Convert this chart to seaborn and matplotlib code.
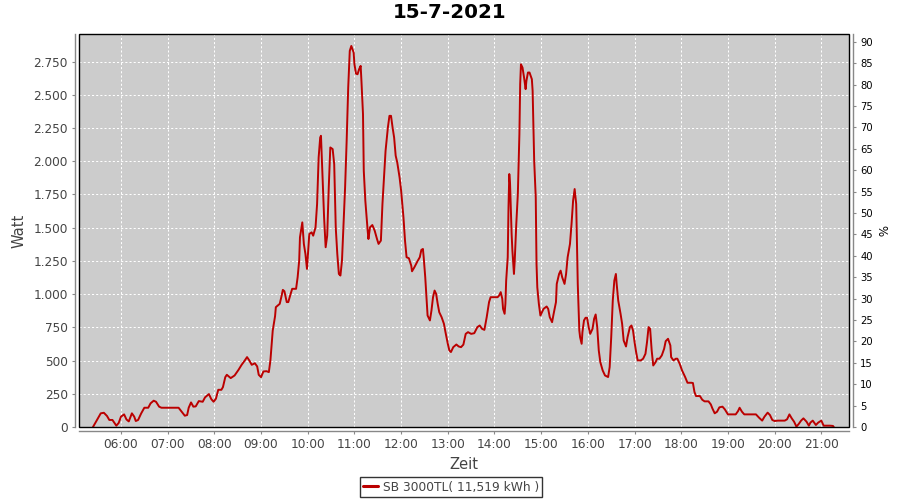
import matplotlib
matplotlib.use("Agg")
import matplotlib.pyplot as plt
from matplotlib.patches import Rectangle
from matplotlib.lines import Line2D
from matplotlib.ticker import FuncFormatter, MultipleLocator
import seaborn as sns
import pandas as pd

title = "15-7-2021"
series_name = "SB 3000TL( 11,519 kWh )"
x_label = "Zeit"
y_label = "Watt"
y2_label = "%"

times = [
    "05:24", "05:34", "05:38", "05:42", "05:45", "05:49", "05:54", "05:57",
    "06:00", "06:04", "06:07", "06:10", "06:14", "06:17", "06:19", "06:22",
    "06:26", "06:30", "06:35", "06:38", "06:42", "06:45", "06:49", "06:52",
    "07:00", "07:14", "07:18", "07:22", "07:25", "07:27", "07:30", "07:33",
    "07:36", "07:40", "07:45", "07:48", "07:53", "07:56", "07:59", "08:02",
    "08:05", "08:09", "08:11", "08:14", "08:16", "08:21", "08:26", "08:31",
    "08:35", "08:39", "08:42", "08:45", "08:48", "08:52", "08:55", "08:57",
    "09:00", "09:03", "09:07", "09:10", "09:12", "09:13", "09:15", "09:18",
    "09:19", "09:24", "09:26", "09:28", "09:30", "09:33", "09:35", "09:38",
    "09:40", "09:45", "09:47", "09:49", "09:50", "09:53", "09:55", "09:57",
    "09:59", "10:02", "10:05", "10:07", "10:10", "10:12", "10:14", "10:16",
    "10:17", "10:19", "10:21", "10:23", "10:25", "10:27", "10:29", "10:32",
    "10:34", "10:36", "10:38", "10:40", "10:42", "10:44", "10:46", "10:48",
    "10:50", "10:52", "10:54", "10:56", "10:59", "11:00", "11:02", "11:04",
    "11:06", "11:08", "11:09", "11:11", "11:12", "11:14", "11:17", "11:18",
    "11:20", "11:23", "11:26", "11:29", "11:31", "11:34", "11:36", "11:38",
    "11:40", "11:43", "11:45", "11:47", "11:49", "11:51", "11:53", "11:55",
    "11:58", "12:00", "12:03", "12:05", "12:07", "12:10", "12:13", "12:14",
    "12:17", "12:21", "12:24", "12:26", "12:28", "12:29", "12:31", "12:33",
    "12:34", "12:37", "12:39", "12:41", "12:43", "12:45", "12:47", "12:49",
    "12:52", "12:55", "12:57", "13:00", "13:02", "13:04", "13:07", "13:11",
    "13:14", "13:17", "13:20", "13:23", "13:26", "13:30", "13:34", "13:38",
    "13:41", "13:44", "13:47", "13:50", "13:53", "13:55", "14:01", "14:04",
    "14:06", "14:08", "14:10", "14:11", "14:13", "14:14", "14:15", "14:17",
    "14:18", "14:19", "14:20", "14:22", "14:23", "14:25", "14:26", "14:28",
    "14:30", "14:32", "14:33", "14:34", "14:36", "14:38", "14:40", "14:41",
    "14:43", "14:45", "14:48", "14:49", "14:50", "14:51", "14:53", "14:54",
    "14:55", "14:57", "14:59", "15:01", "15:03", "15:07", "15:09", "15:11",
    "15:14", "15:16", "15:19", "15:20", "15:23", "15:25", "15:27", "15:30",
    "15:32", "15:34", "15:37", "15:39", "15:41", "15:43", "15:45", "15:46",
    "15:47", "15:49", "15:50", "15:52", "15:53", "15:55", "15:57", "15:59",
    "16:01", "16:03", "16:06", "16:08", "16:10", "16:12", "16:14", "16:16",
    "16:19", "16:22", "16:26", "16:28", "16:30", "16:32", "16:34", "16:36",
    "16:37", "16:39", "16:42", "16:44", "16:46", "16:49", "16:51", "16:54",
    "16:56", "16:58", "17:00", "17:02", "17:04", "17:08", "17:11", "17:14",
    "17:16", "17:18", "17:20", "17:22", "17:24", "17:27", "17:29", "17:32",
    "17:35", "17:38", "17:40", "17:43", "17:46", "17:47", "17:50", "17:53",
    "17:55", "17:58", "18:01", "18:05", "18:08", "18:13", "18:15", "18:17",
    "18:19", "18:24", "18:27", "18:30", "18:35", "18:38", "18:40", "18:43",
    "18:46", "18:49", "18:53", "18:56", "19:00", "19:04", "19:10", "19:13",
    "19:15", "19:18", "19:21", "19:26", "19:32", "19:36", "19:40", "19:44",
    "19:47", "19:51", "19:54", "19:57", "20:00", "20:04", "20:09", "20:13",
    "20:16", "20:19", "20:22", "20:25", "20:28", "20:31", "20:34", "20:37",
    "20:41", "20:44", "20:46", "20:49", "20:53", "20:56", "21:00", "21:03",
    "21:06", "21:11", "21:15", "21:16",
]

watts = [
    0, 103, 107, 83, 53, 53, 10, 30,
    78, 95, 57, 42, 103, 78, 45, 53,
    103, 145, 145, 178, 198, 190, 153, 145,
    145, 145, 115, 85, 90, 145, 185, 153,
    155, 195, 190, 223, 248, 210, 190, 213,
    280, 280, 300, 375, 393, 368, 388, 430,
    468, 500, 526, 500, 468, 480, 456, 393,
    375, 418, 420, 413, 500, 576, 726, 834,
    902, 927, 977, 1032, 1022, 940, 940, 1002,
    1040, 1040, 1127, 1253, 1428, 1540, 1378, 1303,
    1190, 1453, 1465, 1440, 1503, 1678, 2029, 2179,
    2192, 1879, 1578, 1353, 1440, 1804, 2104, 2092,
    1979, 1500, 1300, 1152, 1140, 1253, 1528, 1804,
    2154, 2555, 2831, 2868, 2818, 2730, 2660, 2655,
    2693, 2718, 2605, 2355, 1929, 1703, 1478, 1415,
    1503, 1520, 1478, 1415, 1378, 1403, 1678, 1879,
    2079, 2255, 2342, 2342, 2255, 2179, 2042, 1992,
    1879, 1779, 1578, 1403, 1278, 1270, 1215, 1172,
    1202, 1247, 1278, 1333, 1340, 1278, 1127, 927,
    839, 802, 877, 977, 1027, 1002, 927, 864,
    827, 777, 714, 626, 576, 564, 601, 621,
    606, 601, 620, 701, 714, 701, 706, 752,
    764, 739, 731, 827, 940, 977, 977, 977,
    990, 1015, 965, 889, 852, 927, 1102, 1278,
    1653, 1904, 1829, 1453, 1328, 1152, 1253, 1528,
    1754, 2204, 2580, 2730, 2705, 2630, 2543, 2605,
    2668, 2668, 2618, 2530, 2255, 2004, 1729, 1228,
    1052, 927, 839, 864, 889, 907, 889, 827,
    789, 852, 940, 1077, 1152, 1177, 1127, 1077,
    1152, 1278, 1378, 1528, 1703, 1791, 1678, 1378,
    1077, 727, 676, 626, 714, 802, 822, 822,
    752, 701, 739, 814, 847, 752, 576, 488,
    426, 388, 376, 451, 676, 952, 1102, 1152,
    1077, 952, 852, 777, 651, 606, 676, 752,
    764, 727, 639, 564, 501, 501, 514, 551,
    639, 752, 739, 576, 463, 488, 514, 514,
    539, 589, 646, 664, 614, 526, 501, 514,
    514, 476, 426, 376, 333, 333, 331, 263,
    233, 233, 205, 193, 193, 170, 140, 103,
    115, 148, 153, 133, 95, 95, 95, 120,
    145, 115, 95, 95, 95, 95, 70, 48,
    78, 108, 90, 53, 45, 48, 48, 48,
    58, 95, 65, 40, 3, 23, 48, 65,
    40, 10, 33, 48, 15, 33, 48, 10,
    10, 10, 8, 0,
]

hour_ticks = list(range(6, 22))
watt_ticks = list(range(0, 2751, 250))
pct_ticks = list(range(0, 91, 5))

line_color = "#bb0000"
text_gray = "#444444"
axis_gray = "#888888"

sns.set_style("white")
plt.rcParams["font.family"] = ["DejaVu Sans"]

df = pd.DataFrame({"time": times, "watt": watts})
df["hour"] = df["time"].apply(lambda s: int(s[:2]) + int(s[3:]) / 60.0)

fig = plt.figure(figsize=(9, 5), dpi=100)
fig.patch.set_facecolor("white")
ax = fig.add_axes([79 / 900, 73 / 500, 770 / 900, 393 / 500])
ax.set_facecolor("#cccccc")

sns.lineplot(data=df, x="hour", y="watt", ax=ax, color=line_color,
             linewidth=1.4, estimator=None, sort=False, legend=False, zorder=3)

ax.set_xlim(5.1005, 21.593)
ax.set_ylim(0, 2958)
ax.xaxis.set_major_locator(MultipleLocator(1))
ax.set_xticks(hour_ticks)
ax.set_yticks(watt_ticks)
ax.xaxis.set_major_formatter(FuncFormatter(lambda v, p: f"{int(round(v)):02d}:00"))
ax.yaxis.set_major_formatter(FuncFormatter(lambda v, p: f"{int(round(v)):,}".replace(",", ".")))

ax.grid(True, color="white", linestyle=(0, (2, 2)), linewidth=0.75, zorder=1)
ax.set_axisbelow(True)

for side in ["top", "right"]:
    ax.spines[side].set_visible(False)
for side in ["left", "bottom"]:
    ax.spines[side].set_visible(True)
    ax.spines[side].set_position(("outward", 3))
    ax.spines[side].set_color(axis_gray)
    ax.spines[side].set_linewidth(1.0)

ax.tick_params(axis="both", which="major", length=2.5, width=0.8, color=axis_gray,
               labelcolor=text_gray, labelsize=8.7, pad=2.5,
               left=True, bottom=True)

ax.set_xlabel(x_label, fontsize=10.6, color=text_gray, labelpad=4)
ax.set_ylabel(y_label, fontsize=10.6, color=text_gray, labelpad=5)

# plot border
ax.add_patch(Rectangle((0, 0), 1, 1, transform=ax.transAxes, fill=False,
                       edgecolor="black", linewidth=1.0, zorder=6, clip_on=False))

# right percentage axis
ax2 = ax.twinx()
ax2.set_ylim(0, 91.8)
ax2.set_yticks(pct_ticks)
ax2.yaxis.set_major_formatter(FuncFormatter(lambda v, p: f"{int(round(v))}"))
for side in ["top", "left", "bottom"]:
    ax2.spines[side].set_visible(False)
ax2.spines["right"].set_visible(True)
ax2.spines["right"].set_position(("outward", 3))
ax2.spines["right"].set_color(axis_gray)
ax2.spines["right"].set_linewidth(1.0)
ax2.tick_params(axis="y", length=2, width=0.8, color=axis_gray,
                labelcolor="black", labelsize=7.2, pad=3, right=True)
ax2.set_ylabel(y2_label, fontsize=8.5, color="black", rotation=270,
               labelpad=6, va="center")
ax2.grid(False)

fig.text(0.5, 1 - 13 / 500, title, ha="center", va="center",
         fontsize=14.3, fontweight="bold", color="black")

handle = Line2D([], [], color=line_color, linewidth=2.2)
leg = fig.legend([handle], [series_name], loc="center",
                 bbox_to_anchor=(451 / 900, 1 - 487 / 500),
                 frameon=True, fancybox=False, shadow=False,
                 fontsize=8.8, handlelength=1.2, handletextpad=0.4,
                 borderpad=0.25, borderaxespad=0)
leg.get_frame().set_edgecolor("black")
leg.get_frame().set_linewidth(1.0)
for t in leg.get_texts():
    t.set_color(text_gray)

fig.savefig("out.png", dpi=100, facecolor="white")
